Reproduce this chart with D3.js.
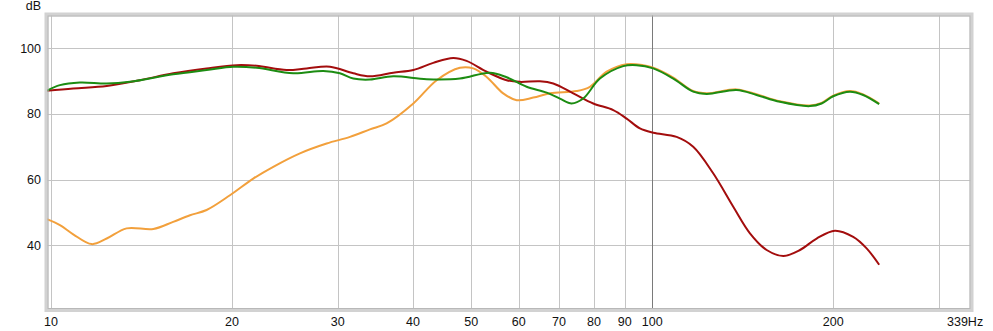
<!DOCTYPE html>
<html>
<head>
<meta charset="utf-8">
<script src="https://cdn.jsdelivr.net/npm/d3@7"></script>
<style>
  body { margin: 0; background: #fff; }
  svg { display: block; font-family: "Liberation Sans", Arial, sans-serif; }
</style>
</head>
<body>
<div id="chart"></div>
<script>
var WIDTH = 993;
var HEIGHT = 331;

// frequency (Hz) / level (dB) pairs
var redHz = [9.85, 10.89, 12.38, 14.06, 15.97, 18.15, 20.37, 21.98, 24.66, 26.62, 29.11, 31.83, 33.93, 37.09, 40.06, 43.24, 46.67, 49.12, 53.04, 57.27, 60.26, 65.05, 68.46, 73.9, 79.79, 86.14, 90.67, 95.4, 100.4, 109.8, 117, 126.3, 136.4, 145.4, 155, 165.2, 176.1, 187.7, 201.3, 215.9, 227.3, 238.5];
var redDb = [87.1, 87.8, 88.5, 90.3, 92.4, 93.9, 94.9, 94.7, 93.4, 93.9, 94.4, 92.4, 91.5, 92.6, 93.4, 95.6, 97.1, 96.2, 92.9, 90.3, 89.8, 90.0, 89.3, 86.3, 83.2, 81.2, 78.6, 75.6, 74.3, 73.0, 70.0, 61.9, 51.7, 43.6, 38.5, 36.7, 38.5, 42.0, 44.4, 42.5, 39.0, 34.0];

var greenHz = [9.85, 10.35, 11.17, 12.38, 13.53, 15.97, 18.15, 20.11, 21.98, 25.29, 28.38, 30.24, 31.83, 33.93, 37.09, 42.16, 47.88, 53.72, 57.27, 61.82, 66.75, 70.23, 73.45, 76.78, 81.85, 89.5, 94.2, 100.4, 108.4, 117, 123.2, 138.2, 149.1, 163.1, 182.9, 191.3, 200, 213.2, 224.3, 238.5];
var greenDb = [87.1, 88.8, 89.6, 89.3, 89.8, 92.1, 93.4, 94.4, 94.1, 92.4, 93.1, 92.4, 90.8, 90.5, 91.5, 90.6, 90.8, 92.6, 91.2, 88.3, 86.5, 84.7, 83.2, 84.7, 90.8, 94.6, 94.9, 93.9, 90.8, 86.8, 86.1, 87.3, 85.8, 83.7, 82.4, 83.2, 85.4, 86.8, 85.8, 83.0];

var orangeHz = [9.85, 10.35, 10.89, 11.69, 12.38, 13.36, 14.8, 15.97, 17.03, 18.15, 19.85, 21.7, 23.43, 25.95, 28.74, 31.43, 33.93, 36.16, 40.06, 43.81, 47.88, 50.39, 53.04, 56.52, 59.51, 63.41, 67.6, 74.87, 78.78, 84.0, 90.67, 96.6, 100.4, 108.4, 117, 123.2, 138.2, 149.1, 163.1, 182.9, 191.3, 200, 213.2, 224.3, 238.5];
var orangeDb = [47.9, 46.1, 43.3, 40.3, 42.0, 45.1, 44.9, 47.1, 49.1, 50.7, 55.2, 60.3, 63.9, 68.0, 71.0, 73.0, 75.3, 77.1, 83.2, 90.3, 94.1, 93.9, 91.3, 86.3, 84.2, 85.0, 86.3, 87.0, 88.3, 92.9, 95.2, 94.9, 94.1, 91.1, 87.0, 86.3, 87.5, 86.0, 83.9, 82.6, 83.4, 85.6, 87.0, 86.0, 83.2];

var xTicks = [10, 20, 30, 40, 50, 60, 70, 80, 90, 100, 200];
var xGrid = [10, 20, 30, 40, 50, 60, 70, 80, 90, 100, 200, 300];
var yTicks = [40, 60, 80, 100];

var series = [
	{ name: "orange", hz: orangeHz, db: orangeDb, color: "#f2a03c" },
	{ name: "red", hz: redHz, db: redDb, color: "#a30d0d" },
	{ name: "green", hz: greenHz, db: greenDb, color: "#1c8c12" }
];

var frame = { left: 46.5, top: 14.5, right: 971.5, bottom: 310 };

var x = d3.scaleLog().domain([9.85, 339]).range([47, 971]);
var y = d3.scaleLinear().domain([20.2, 110.5]).range([310, 14]);

var svg = d3.select("#chart").append("svg")
	.attr("width", WIDTH)
	.attr("height", HEIGHT);

// frame (soft gray border)
svg.append("rect")
	.attr("x", frame.left).attr("y", frame.top)
	.attr("width", frame.right - frame.left)
	.attr("height", frame.bottom - frame.top)
	.attr("fill", "#fff")
	.attr("stroke", "#d2d2d2")
	.attr("stroke-width", 4);

var clip = svg.append("clipPath").attr("id", "plot-clip")
	.append("rect")
	.attr("x", frame.left + 1).attr("y", frame.top + 1)
	.attr("width", frame.right - frame.left - 2)
	.attr("height", frame.bottom - frame.top - 2);

var plot = svg.append("g").attr("clip-path", "url(#plot-clip)");

// grid
plot.selectAll(".hgrid")
	.data(yTicks)
	.enter().append("line")
	.attr("class", "hgrid")
	.attr("x1", frame.left).attr("x2", frame.right)
	.attr("y1", d => Math.round(y(d)) + 0.5)
	.attr("y2", d => Math.round(y(d)) + 0.5)
	.attr("stroke", "#c4c4c4")
	.attr("stroke-width", 1);

plot.selectAll(".vgrid")
	.data(xGrid)
	.enter().append("line")
	.attr("class", "vgrid")
	.attr("x1", d => Math.round(x(d)) + 0.5)
	.attr("x2", d => Math.round(x(d)) + 0.5)
	.attr("y1", frame.top).attr("y2", frame.bottom)
	.attr("stroke", d => d === 100 ? "#7a7a7a" : "#c4c4c4")
	.attr("stroke-width", 1);

// curves
var line = d3.line()
	.x(d => x(d[0]))
	.y(d => y(d[1]))
	.curve(d3.curveCatmullRom.alpha(0.5));

series.forEach(function(s) {
	plot.append("path")
		.datum(d3.zip(s.hz, s.db))
		.attr("fill", "none")
		.attr("stroke", s.color)
		.attr("stroke-width", 2)
		.attr("stroke-linejoin", "round")
		.attr("d", line);
});

// inner frame edge
svg.append("rect")
	.attr("x", frame.left + 1.5).attr("y", frame.top + 1.5)
	.attr("width", frame.right - frame.left - 3)
	.attr("height", frame.bottom - frame.top - 3)
	.attr("fill", "none")
	.attr("stroke", "#b8b8b8")
	.attr("stroke-width", 1);

// tick labels
svg.selectAll(".ylab")
	.data(yTicks)
	.enter().append("text")
	.attr("class", "ylab")
	.attr("x", 41)
	.attr("y", d => y(d) + 4.5)
	.attr("text-anchor", "end")
	.style("font-size", "12.5px")
	.style("fill", "#111")
	.text(d => d);

svg.append("text")
	.attr("x", 41).attr("y", 10)
	.attr("text-anchor", "end")
	.style("font-size", "12.5px")
	.style("fill", "#111")
	.text("dB");

svg.selectAll(".xlab")
	.data(xTicks)
	.enter().append("text")
	.attr("class", "xlab")
	.attr("x", d => x(d))
	.attr("y", 326)
	.attr("text-anchor", "middle")
	.style("font-size", "12.5px")
	.style("fill", "#111")
	.text(d => d);

svg.append("text")
	.attr("x", 947).attr("y", 326)
	.attr("text-anchor", "start")
	.style("font-size", "12.5px")
	.style("fill", "#111")
	.text("339Hz");
</script>
</body>
</html>
